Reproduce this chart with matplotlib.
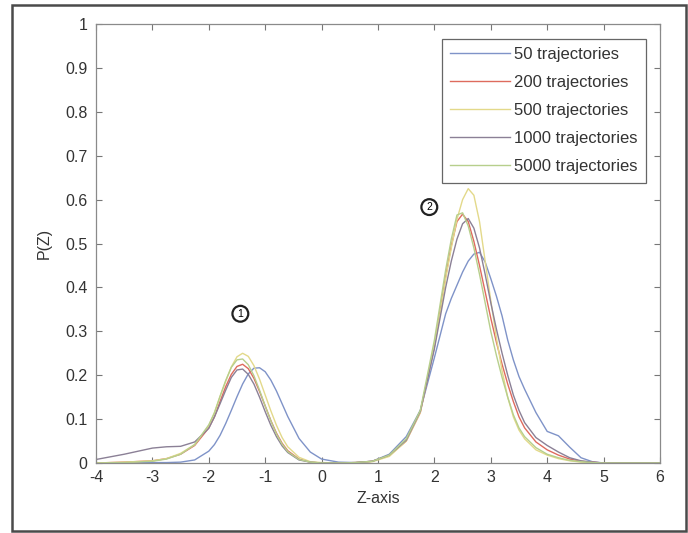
import numpy as np
import matplotlib
matplotlib.use('Agg')
import matplotlib.pyplot as plt
from matplotlib.patches import Rectangle

plt.rcParams['font.family'] = ['Liberation Sans', 'DejaVu Sans']

# values
z = [-4.0, -3.5, -3.0, -2.75, -2.5, -2.25, -2.0, -1.9, -1.8, -1.7, -1.6, -1.5, -1.4, -1.3,
     -1.2, -1.1, -1.0, -0.9, -0.8, -0.7, -0.6, -0.4, -0.2, 0.0, 0.3, 0.6, 0.9, 1.2, 1.5,
     1.75, 2.0, 2.1, 2.2, 2.3, 2.4, 2.5, 2.6, 2.7, 2.8, 2.9, 3.0, 3.1, 3.2, 3.3, 3.4, 3.5,
     3.6, 3.8, 4.0, 4.2, 4.4, 4.6, 4.8, 5.0, 5.5, 6.0]

p_50 = [0.0, 0.0, 0.001, 0.001, 0.002, 0.007, 0.027, 0.042, 0.063, 0.090, 0.120, 0.151, 0.180, 0.203,
        0.216, 0.217, 0.208, 0.189, 0.164, 0.135, 0.106, 0.056, 0.025, 0.009, 0.002, 0.001, 0.004, 0.02, 0.06,
        0.12, 0.24, 0.29, 0.34, 0.375, 0.405, 0.435, 0.46, 0.476, 0.48, 0.458, 0.42, 0.38, 0.335, 0.28, 0.235, 0.197,
        0.168, 0.115, 0.072, 0.062, 0.036, 0.012, 0.003, 0.0, 0.0, 0.0]
p_200 = [0.0, 0.002, 0.005, 0.010, 0.020, 0.040, 0.080, 0.105, 0.140, 0.174, 0.202, 0.220, 0.225, 0.215,
         0.193, 0.163, 0.130, 0.097, 0.068, 0.045, 0.028, 0.009, 0.002, 0.0, 0.0, 0.001, 0.004, 0.017, 0.05,
         0.115, 0.265, 0.345, 0.425, 0.495, 0.55, 0.567, 0.55, 0.505, 0.45, 0.39, 0.33, 0.275, 0.225, 0.18, 0.14, 0.105,
         0.08, 0.048, 0.03, 0.018, 0.009, 0.004, 0.002, 0.0, 0.0, 0.0]
p_500 = [0.0, 0.002, 0.005, 0.010, 0.022, 0.042, 0.085, 0.115, 0.152, 0.186, 0.219, 0.242, 0.250, 0.243,
         0.222, 0.191, 0.155, 0.119, 0.086, 0.058, 0.037, 0.013, 0.003, 0.001, 0.0, 0.001, 0.003, 0.015, 0.05,
         0.115, 0.27, 0.34, 0.42, 0.49, 0.555, 0.60, 0.625, 0.61, 0.55, 0.46, 0.37, 0.285, 0.21, 0.15, 0.105, 0.075,
         0.055, 0.03, 0.018, 0.01, 0.005, 0.002, 0.001, 0.0, 0.0, 0.0]
p_1000 = [0.008, 0.020, 0.034, 0.037, 0.038, 0.048, 0.079, 0.105, 0.135, 0.166, 0.195, 0.212, 0.214, 0.202,
          0.180, 0.150, 0.117, 0.086, 0.060, 0.039, 0.024, 0.007, 0.002, 0.0, 0.0, 0.001, 0.004, 0.018, 0.052,
          0.118, 0.26, 0.33, 0.40, 0.46, 0.51, 0.545, 0.557, 0.535, 0.49, 0.43, 0.365, 0.305, 0.25, 0.20, 0.155, 0.12,
          0.092, 0.058, 0.04, 0.025, 0.012, 0.005, 0.002, 0.0, 0.0, 0.0]
p_5000 = [0.0, 0.001, 0.004, 0.009, 0.020, 0.042, 0.087, 0.114, 0.152, 0.188, 0.218, 0.235, 0.237, 0.224,
          0.199, 0.166, 0.130, 0.096, 0.066, 0.043, 0.026, 0.008, 0.002, 0.0, 0.0, 0.001, 0.004, 0.018, 0.055,
          0.12, 0.28, 0.36, 0.44, 0.51, 0.565, 0.57, 0.54, 0.49, 0.43, 0.365, 0.30, 0.245, 0.195, 0.15, 0.11, 0.08,
          0.06, 0.035, 0.02, 0.012, 0.006, 0.003, 0.001, 0.0, 0.0, 0.0]

series = [(p_50, '50 trajectories', '#7f93c8'),
          (p_200, '200 trajectories', '#de6b5e'),
          (p_500, '500 trajectories', '#e3d98a'),
          (p_1000, '1000 trajectories', '#8b8096'),
          (p_5000, '5000 trajectories', '#b7cf8c')]

fig = plt.figure(figsize=(6.88, 5.33), dpi=100)
ax = fig.add_axes([0.1395, 0.1313, 0.8198, 0.8236])

for vals, label, col in series:
    ax.plot(z, vals, color=col, lw=1.0, label=label)

ax.set_xlim(-4, 6)
ax.set_ylim(0, 1)
ax.set_xticks(np.arange(-4, 7, 1))
ax.set_yticks(np.arange(0, 1.01, 0.1))
ax.set_xticklabels([str(v) for v in range(-4, 7)])
ax.set_yticklabels(['0'] + ['%.1f' % v for v in np.arange(0.1, 1.0, 0.1)] + ['1'])
ax.tick_params(direction='in', top=True, right=True, length=4, width=0.8,
               colors='#777777', labelcolor='#333333', labelsize=11.5)
ax.tick_params(axis='x', pad=5)
ax.tick_params(axis='y', pad=6)
for s in ax.spines.values():
    s.set_color('#8a8a8a')
    s.set_linewidth(0.9)

ax.set_xlabel('Z-axis', fontsize=11.5, color='#333333', labelpad=4)
ax.set_ylabel('P(Z)', fontsize=11.5, color='#333333', labelpad=10)

leg = ax.legend(loc='upper right', bbox_to_anchor=(0.99, 0.985), fontsize=12,
                handlelength=3.6, labelspacing=0.78, borderpad=0.5,
                handletextpad=0.25, fancybox=False, framealpha=1)
leg.get_frame().set_edgecolor('#666666')
leg.get_frame().set_linewidth(0.9)
for t in leg.get_texts():
    t.set_color('#333333')

circ = dict(boxstyle='circle,pad=0.28', fc='white', ec='#222222', lw=1.6)
ax.text(-1.44, 0.34, '1', fontsize=7.5, ha='center', va='center', bbox=circ)
ax.text(1.91, 0.583, '2', fontsize=7.5, ha='center', va='center', bbox=circ)

fig.patches.append(Rectangle((12 / 688, 2 / 533), 674 / 688, 526 / 533, transform=fig.transFigure,
                             fill=False, ec='#4a4a4a', lw=1.8))

fig.savefig('out.png', dpi=100)
